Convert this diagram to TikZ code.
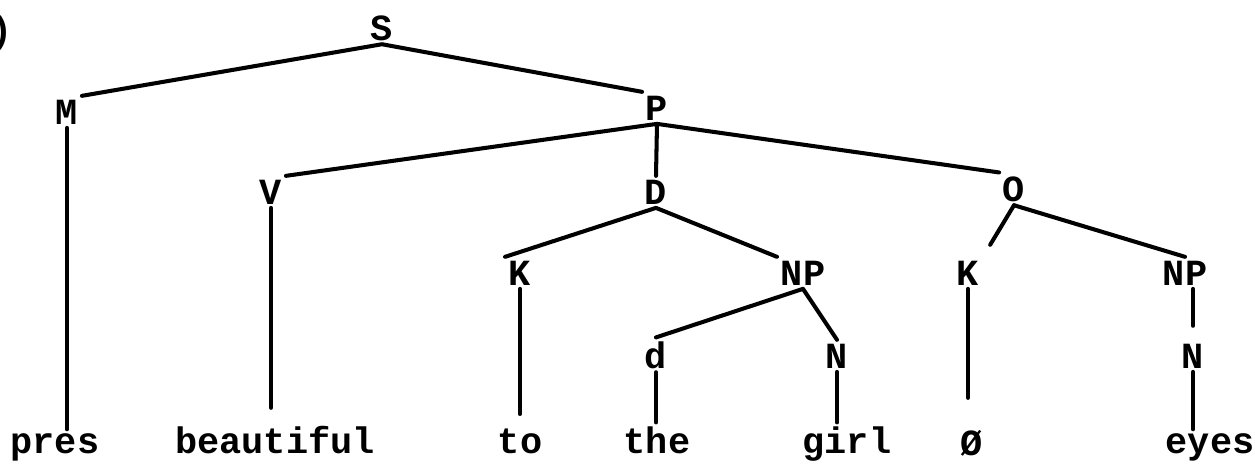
\documentclass[tikz,border=0pt]{standalone}
\usepackage{fontspec}
\setmonofont{Liberation Mono}

\begin{document}
\begin{tikzpicture}[x=0.02cm, y=-0.02cm, lbl/.style={inner sep=2pt, anchor=base, font=\ttfamily\bfseries\fontsize{21}{25}\selectfont}, br/.style={line width=2.3pt, line cap=round}]
            \useasboundingbox (0,0) rectangle (1255,468);
            \node[lbl, anchor=base east] (tag) at (17,42) {)};
            \node[lbl] (S) at (382,40) {S};
            \node[lbl] (M) at (67,124) {M}; \node[lbl] (P) at (657,120) {P};
            \node[lbl] (V) at (271,204) {V}; \node[lbl] (D) at (656,204) {D}; \node[lbl] (O) at (1014,201) {O};
            \node[lbl] (K1) at (520,285) {K}; \node[lbl] (NP1) at (803,285) {NP}; \node[lbl] (K2) at (968,285) {K}; \node[lbl] (NP2) at (1185,285) {NP};
            \node[lbl] (d) at (656,368) {d}; \node[lbl] (N1) at (837,368) {N}; \node[lbl] (N2) at (1193,368) {N};
            \node[lbl] (pres) at (55,453) {pres}; \node[lbl] (beau) at (275,453) {beautiful}; \node[lbl] (to) at (520,453) {to};
            \node[lbl] (the) at (657,453) {the}; \node[lbl] (girl) at (847,453) {girl}; \node[lbl] (zero) at (972,455) {Ø}; \node[lbl] (eyes) at (1210,453) {eyes};
            \draw[br] (S.south) -- (M.north east) (S.south) -- (P.north west);
            \draw[br] (P.south) -- (V.north east) (P.south) -- (D.north) (P.south) -- (O.north west);
            \draw[br] (D.south) -- (K1.north west) (D.south) -- (NP1.north west);
            \draw[br, shorten >=8pt] (O.south) -- (K2.north east);
            \draw[br] (O.south) -- (NP2.north);
            \draw[br] (NP1.south) -- (d.north) (NP1.south) -- (N1.north);
            \draw[br, shorten >=8pt] (N2.north |- NP2.south) -- (N2.north);% NP to N
            \draw[br] (M.south) -- (M.south |- pres.north);
            \draw[br, shorten >=8pt] (V.south) -- (V.south |- beau.north);
            \draw[br, shorten >=6pt] (K1.south) -- (K1.south |- to.north);
            \draw[br, shorten >=16pt] (K2.south) -- (K2.south |- zero.north);
            \draw[br] (d.south) -- (d.south |- the.north) (N1.south) -- (N1.south |- girl.north) (N2.south) -- (N2.south |- eyes.north);
        \end{tikzpicture}
\end{document}
